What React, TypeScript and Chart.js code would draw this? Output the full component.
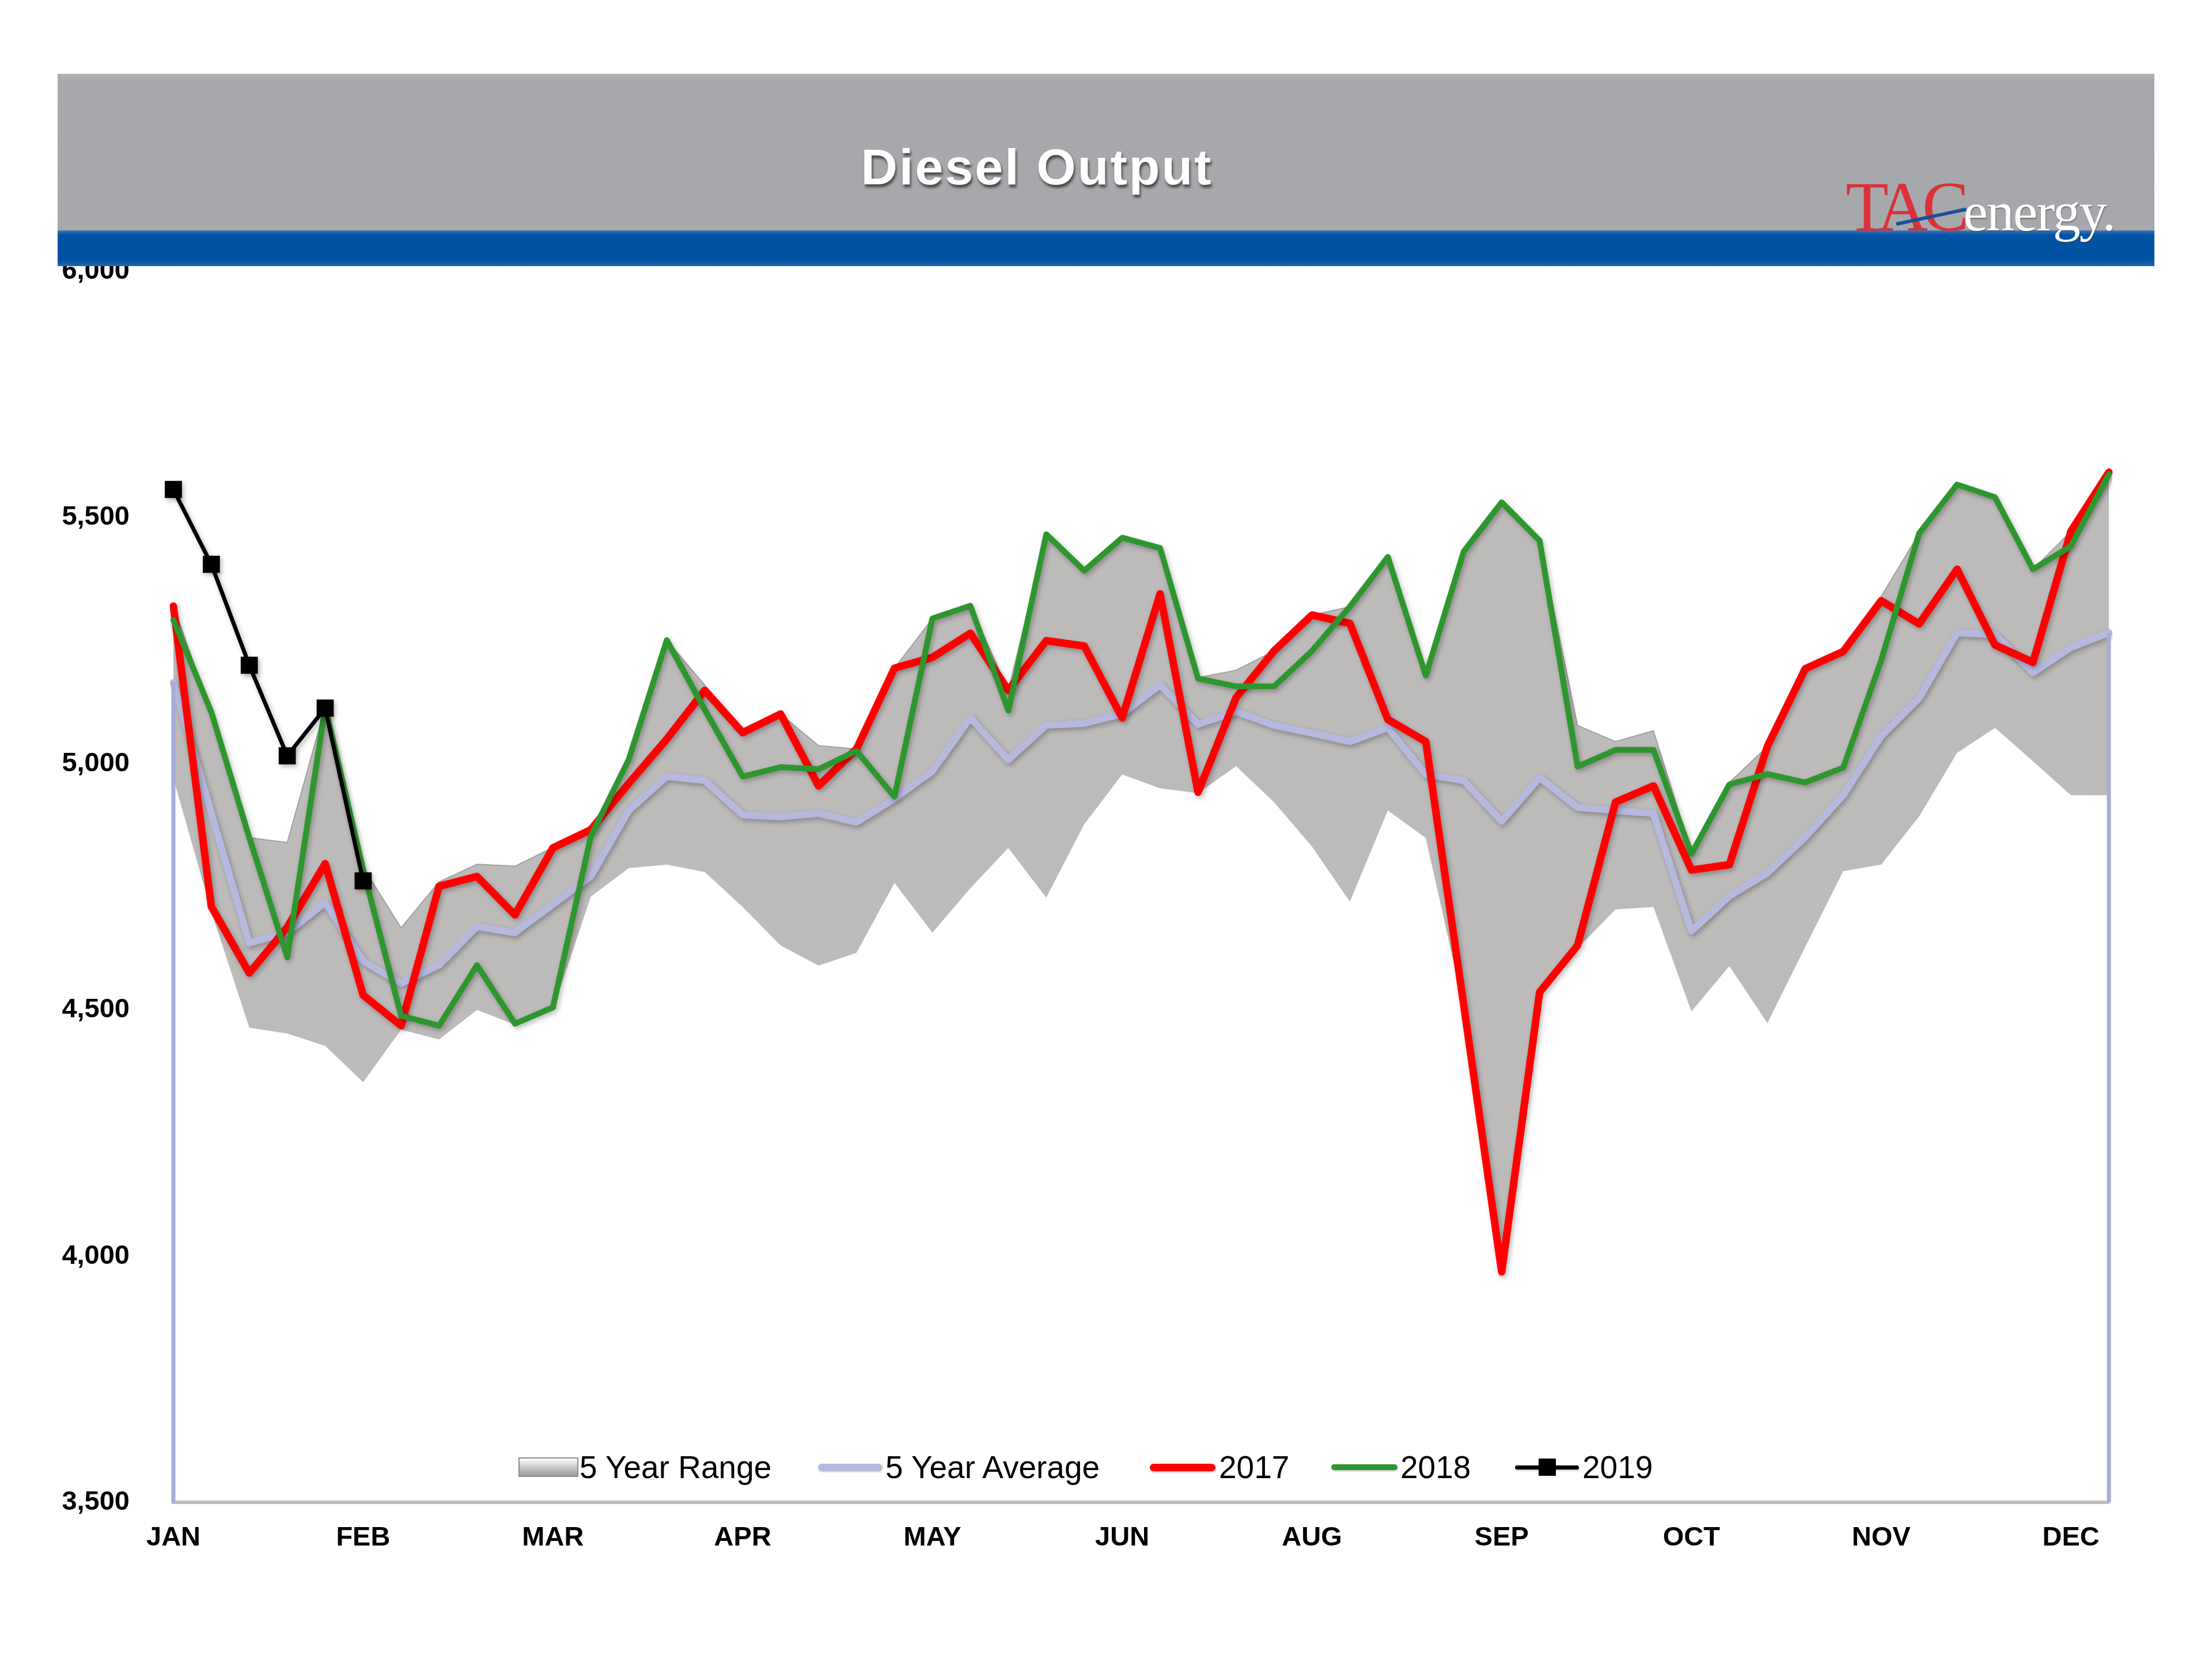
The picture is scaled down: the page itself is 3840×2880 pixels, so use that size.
import React, { useEffect, useRef } from 'react';
import { Chart, registerables } from 'chart.js';

Chart.register(...registerables);

// ---------- data ----------
const WEEKS = [1, 2, 3, 4, 5, 6, 7, 8, 9, 10, 11, 12, 13, 14, 15, 16, 17, 18, 19, 20, 21, 22, 23, 24, 25, 26,
  27, 28, 29, 30, 31, 32, 33, 34, 35, 36, 37, 38, 39, 40, 41, 42, 43, 44, 45, 46, 47, 48, 49, 50, 51, 52];
const MONTH_TICK_WEEKS = [1, 6, 11, 16, 21, 26, 31, 36, 41, 46, 51];
const MONTH_TICKS = ['JAN', 'FEB', 'MAR', 'APR', 'MAY', 'JUN', 'AUG', 'SEP', 'OCT', 'NOV', 'DEC'];
const Y_MIN = 3500;
const Y_MAX = 6000;
const Y_STEP = 500;

const RANGE_MIN = [4970, 4700, 4464, 4452, 4427, 4353, 4460, 4440, 4500, 4470, 4500, 4730, 4788, 4795, 4780, 4709,
  4631, 4590, 4616, 4758, 4657, 4747, 4829, 4728, 4877, 4978, 4950, 4940, 4995, 4922, 4832, 4720, 4905, 4849,
  4505, 3960, 4530, 4625, 4704, 4709, 4497, 4589, 4473, 4628, 4782, 4795, 4893, 5022, 5073, 5005, 4936, 4936];
const RANGE_MAX = [5320, 5105, 4850, 4840, 5116, 4790, 4667, 4760, 4796, 4792, 4830, 4866, 5009, 5251, 5160, 5063,
  5101, 5037, 5030, 5194, 5295, 5321, 5149, 5466, 5392, 5459, 5440, 5175, 5190, 5229, 5302, 5319, 5420, 5179,
  5431, 5531, 5453, 5078, 5045, 5067, 4820, 4962, 5035, 5193, 5228, 5340, 5468, 5567, 5541, 5395, 5472, 5592];
const AVG_5Y = [5165, 4900, 4636, 4657, 4718, 4599, 4554, 4591, 4669, 4657, 4714, 4771, 4905, 4974, 4966, 4896,
  4892, 4899, 4881, 4929, 4985, 5093, 5008, 5078, 5082, 5101, 5160, 5080, 5106, 5078, 5062, 5045, 5073, 4978,
  4966, 4883, 4972, 4911, 4905, 4899, 4660, 4731, 4778, 4851, 4936, 5056, 5133, 5266, 5262, 5185, 5236, 5266];
const Y2017 = [5320, 4710, 4575, 4668, 4797, 4530, 4468, 4751, 4771, 4693, 4829, 4866, 4960, 5050, 5149, 5063,
  5101, 4955, 5030, 5194, 5216, 5265, 5149, 5250, 5239, 5093, 5345, 4942, 5134, 5229, 5302, 5285, 5090, 5045,
  4510, 3968, 4536, 4631, 4922, 4955, 4784, 4795, 5035, 5193, 5228, 5331, 5284, 5395, 5241, 5206, 5472, 5592];
const Y2018 = [5292, 5105, 4850, 4607, 5116, 4785, 4488, 4468, 4591, 4472, 4505, 4853, 5009, 5251, 5110, 4974,
  4993, 4989, 5026, 4933, 5295, 5321, 5108, 5466, 5392, 5459, 5438, 5173, 5157, 5157, 5229, 5319, 5420, 5179,
  5431, 5531, 5453, 4994, 5028, 5028, 4817, 4958, 4979, 4962, 4992, 5210, 5468, 5567, 5541, 5395, 5442, 5588];
const Y2019 = [5557, 5405, 5200, 5016, 5113, 4762];

const LEGEND_LABELS = ['5 Year Range', '5 Year Average', '2017', '2018', '2019'];

// ---------- styles ----------
const FONT = "'Liberation Sans', Arial, sans-serif";
const SERIF = "'Liberation Serif', 'Times New Roman', serif";
const COL_RANGE = '#bdbaba';
const COL_AVG = '#b6b8de';
const COL_2017 = '#ff0000';
const COL_2018 = '#2e962e';
const COL_2019 = '#000000';

const AVG_INDEX = 3;

const decorPlugin = {
  id: 'decor',
  beforeDatasetDraw(chart: any, args: any) {
    if (args.index <= AVG_INDEX) {
      const ctx = chart.ctx;
      ctx.save();
      ctx.shadowColor = 'rgba(0,0,0,0.28)';
      ctx.shadowBlur = 8;
      ctx.shadowOffsetX = 3;
      ctx.shadowOffsetY = 4;
    }
  },
  afterDatasetDraw(chart: any, args: any) {
    if (args.index <= AVG_INDEX) {
      chart.ctx.restore();
    }
    if (args.index === AVG_INDEX) {
      const { ctx, chartArea } = chart;
      const pts = args.meta.data;
      if (!pts.length) return;
      const first = pts[0];
      const last = pts[pts.length - 1];
      ctx.save();
      ctx.strokeStyle = '#a9abd6';
      ctx.lineWidth = 7;
      ctx.beginPath();
      ctx.moveTo(first.x, first.y);
      ctx.lineTo(first.x, chartArea.bottom);
      ctx.moveTo(last.x, last.y);
      ctx.lineTo(last.x, chartArea.bottom);
      ctx.stroke();
      ctx.restore();
    }
  },
};

export default function App() {
  const canvasRef = useRef<HTMLCanvasElement>(null);

  useEffect(() => {
    const canvas = canvasRef.current;
    if (!canvas) return;
    const chart = new Chart(canvas, {
      type: 'line',
      data: {
        labels: WEEKS,
        datasets: [
          {
            label: '2019',
            data: Y2019,
            borderColor: COL_2019,
            backgroundColor: COL_2019,
            borderWidth: 7,
            pointStyle: 'rect',
            pointRadius: 21,
            pointBackgroundColor: COL_2019,
            pointBorderColor: COL_2019,
            pointBorderWidth: 0,
            order: 0,
            fill: false,
          },
          {
            label: '2018',
            data: Y2018,
            borderColor: COL_2018,
            borderWidth: 10,
            pointRadius: 0,
            order: 1,
            fill: false,
          },
          {
            label: '2017',
            data: Y2017,
            borderColor: COL_2017,
            borderWidth: 13,
            pointRadius: 0,
            order: 2,
            fill: false,
          },
          {
            label: '5 Year Average',
            data: AVG_5Y,
            borderColor: COL_AVG,
            borderWidth: 12,
            pointRadius: 0,
            order: 3,
            fill: false,
          },
          {
            label: '5 Year Range min',
            data: RANGE_MIN,
            borderColor: 'rgba(0,0,0,0)',
            borderWidth: 0,
            pointRadius: 0,
            order: 4,
            fill: false,
          },
          {
            label: '5 Year Range',
            data: RANGE_MAX,
            borderColor: 'rgba(120,118,118,0.55)',
            borderWidth: 2,
            backgroundColor: COL_RANGE,
            pointRadius: 0,
            order: 5,
            fill: 4,
          },
        ],
      },
      options: {
        responsive: false,
        devicePixelRatio: 1,
        animation: false,
        events: [],
        elements: { line: { tension: 0, borderJoinStyle: 'round', borderCapStyle: 'round' } },
        layout: { padding: { left: 0, right: 179, top: 471, bottom: 152 } },
        plugins: {
          legend: { display: false },
          tooltip: { enabled: false },
          title: { display: false },
        },
        scales: {
          x: {
            type: 'category',
            offset: false,
            grid: { display: false, drawTicks: false },
            border: { display: true, color: '#bdbdbd', width: 6 },
            afterFit: (scale: any) => {
              scale.height = 120;
            },
            ticks: {
              autoSkip: false,
              maxRotation: 0,
              minRotation: 0,
              padding: 34,
              color: '#000',
              font: { family: FONT, size: 47, weight: 'bold' },
              callback: (_v: any, index: number) => {
                const k = MONTH_TICK_WEEKS.indexOf(WEEKS[index]);
                return k >= 0 ? MONTH_TICKS[k] : null;
              },
            },
          },
          y: {
            min: Y_MIN,
            max: Y_MAX,
            grid: { display: false, drawTicks: false },
            border: { display: false },
            afterFit: (scale: any) => {
              scale.width = 301;
            },
            ticks: {
              stepSize: Y_STEP,
              padding: 76,
              color: '#000',
              font: { family: FONT, size: 47, weight: 'bold' },
              callback: (v: any) => Number(v).toLocaleString('en-US'),
            },
          },
        },
      },
      plugins: [decorPlugin],
    } as any);
    return () => chart.destroy();
  }, []);

  const legendText: React.CSSProperties = {
    position: 'absolute',
    top: 2517,
    height: 60,
    lineHeight: '60px',
    fontFamily: FONT,
    fontSize: 55,
    color: '#000',
    whiteSpace: 'nowrap',
  };
  const lineSample = (left: number, width: number, color: string, h: number): React.CSSProperties => ({
    position: 'absolute',
    left,
    top: 2547 - h / 2,
    width,
    height: h,
    background: color,
    borderRadius: h / 2,
    boxShadow: '1px 2px 3px rgba(0,0,0,0.25)',
  });

  return (
    <div style={{ position: 'absolute', left: 0, top: 0, width: 3840, height: 2880, background: '#ffffff', overflow: 'hidden' }}>
      <canvas ref={canvasRef} width={3840} height={2880} style={{ position: 'absolute', left: 0, top: 0, width: 3840, height: 2880 }} />

      {/* header band */}
      <div style={{ position: 'absolute', left: 100, top: 128, width: 3640, height: 272, background: 'linear-gradient(#b4b5b8 0px, #a8a9ac 10px, #a7a8ab 100%)' }} />
      <div style={{ position: 'absolute', left: 100, top: 400, width: 3640, height: 62, background: 'linear-gradient(#3f78b8 0px, #0053a4 8px, #0052a3 52px, #2a66ad 62px)' }} />
      <div
        style={{
          position: 'absolute',
          left: 1300,
          top: 246,
          width: 1000,
          height: 88,
          lineHeight: '88px',
          textAlign: 'center',
          fontFamily: FONT,
          fontWeight: 'bold',
          fontSize: 88,
          letterSpacing: 3,
          color: '#ffffff',
          textShadow: '2px 5px 4px rgba(40,40,40,0.75)',
          whiteSpace: 'nowrap',
        }}
      >
        Diesel Output
      </div>

      {/* logo */}
      <div style={{ position: 'absolute', left: 3204, top: 300, height: 118, lineHeight: '118px', fontFamily: SERIF, fontSize: 122, whiteSpace: 'nowrap' }}>
        <span style={{ color: '#d9323a', letterSpacing: -10 }}>TAC</span>
        <span style={{ color: '#ffffff', fontSize: 96, letterSpacing: -2, textShadow: '1px 2px 2px rgba(60,60,60,0.5)' }}>energy.</span>
      </div>
      <div style={{ position: 'absolute', left: 3292, top: 386, width: 124, height: 6, background: '#1d4f9e', transformOrigin: 'left center', transform: 'rotate(-12deg)' }} />

      {/* legend */}
      <div style={{ position: 'absolute', left: 900, top: 2530, width: 104, height: 34, background: 'linear-gradient(#ffffff, #d0d0d0 45%, #9a9a9a)', border: '2px solid #8c8c8c', boxSizing: 'border-box' }} />
      <div style={{ ...legendText, left: 1006 }}>{LEGEND_LABELS[0]}</div>
      <div style={lineSample(1420, 111, COL_AVG, 12)} />
      <div style={{ ...legendText, left: 1537 }}>{LEGEND_LABELS[1]}</div>
      <div style={lineSample(1996, 114, COL_2017, 13)} />
      <div style={{ ...legendText, left: 2116 }}>{LEGEND_LABELS[2]}</div>
      <div style={lineSample(2311, 115, COL_2018, 10)} />
      <div style={{ ...legendText, left: 2431 }}>{LEGEND_LABELS[3]}</div>
      <div style={lineSample(2630, 111, COL_2019, 7)} />
      <div style={{ position: 'absolute', left: 2671, top: 2532, width: 30, height: 30, background: COL_2019 }} />
      <div style={{ ...legendText, left: 2747 }}>{LEGEND_LABELS[4]}</div>
    </div>
  );
}
